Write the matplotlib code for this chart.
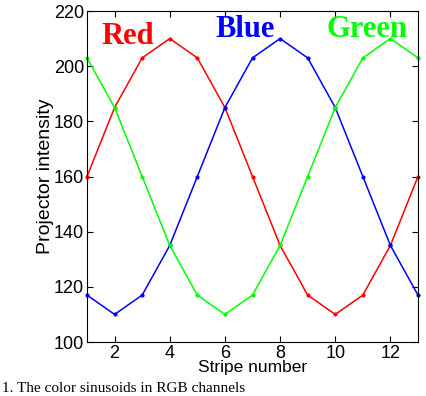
import matplotlib
matplotlib.use("Agg")
import matplotlib.pyplot as plt

stripes = [1, 2, 3, 4, 5, 6, 7, 8, 9, 10, 11, 12, 13]
red = [160, 185, 203, 210, 203, 185, 160, 135, 117, 110, 117, 135, 160]
blue = [117, 110, 117, 135, 160, 185, 203, 210, 203, 185, 160, 135, 117]
green = [203, 185, 160, 135, 117, 110, 117, 135, 160, 185, 203, 210, 203]
xticks = [2, 4, 6, 8, 10, 12]
yticks = [100, 120, 140, 160, 180, 200, 220]

fig = plt.figure(figsize=(4.26, 3.96), dpi=100, facecolor="white")
ax = fig.add_axes([87 / 426, 1 - 342 / 396, 331 / 426, 331 / 396])

for vals, col in [(red, "#ff0000"), (blue, "#0000ff"), (green, "#00ff00")]:
    ax.plot(stripes, vals, color=col, linewidth=1.1, marker="o", markersize=2, clip_on=False)

ax.set_xlim(1, 13)
ax.set_ylim(100, 220)
ax.set_xticks(xticks)
ax.set_yticks(yticks)
ax.tick_params(direction="in", top=True, right=True, labelsize=13, length=4, width=0.8, pad=2)
for lab in ax.get_xticklabels() + ax.get_yticklabels():
    lab.set_fontfamily("Liberation Sans")
for s in ax.spines.values():
    s.set_linewidth(0.8)

ax.set_xlabel("Stripe number", fontsize=12.5, family="Liberation Sans", labelpad=-1)
ax.set_ylabel("Projector intensity", fontsize=14, family="Liberation Sans", labelpad=0)

lab_kw = dict(fontsize=22, fontweight="bold", family="Liberation Serif", ha="center", va="baseline")
ax.text(2.49, 208.0, "Red", color="#ff0000", **lab_kw)
ax.text(6.73, 210.6, "Blue", color="#0000ff", **lab_kw)
ax.text(11.15, 210.6, "Green", color="#00ff00", **lab_kw)

fig.text(0.005, 1 / 396, "1. The color sinusoids in RGB channels", fontsize=11,
         family="Liberation Serif", ha="left", va="bottom")

fig.savefig("out.png", dpi=100)
